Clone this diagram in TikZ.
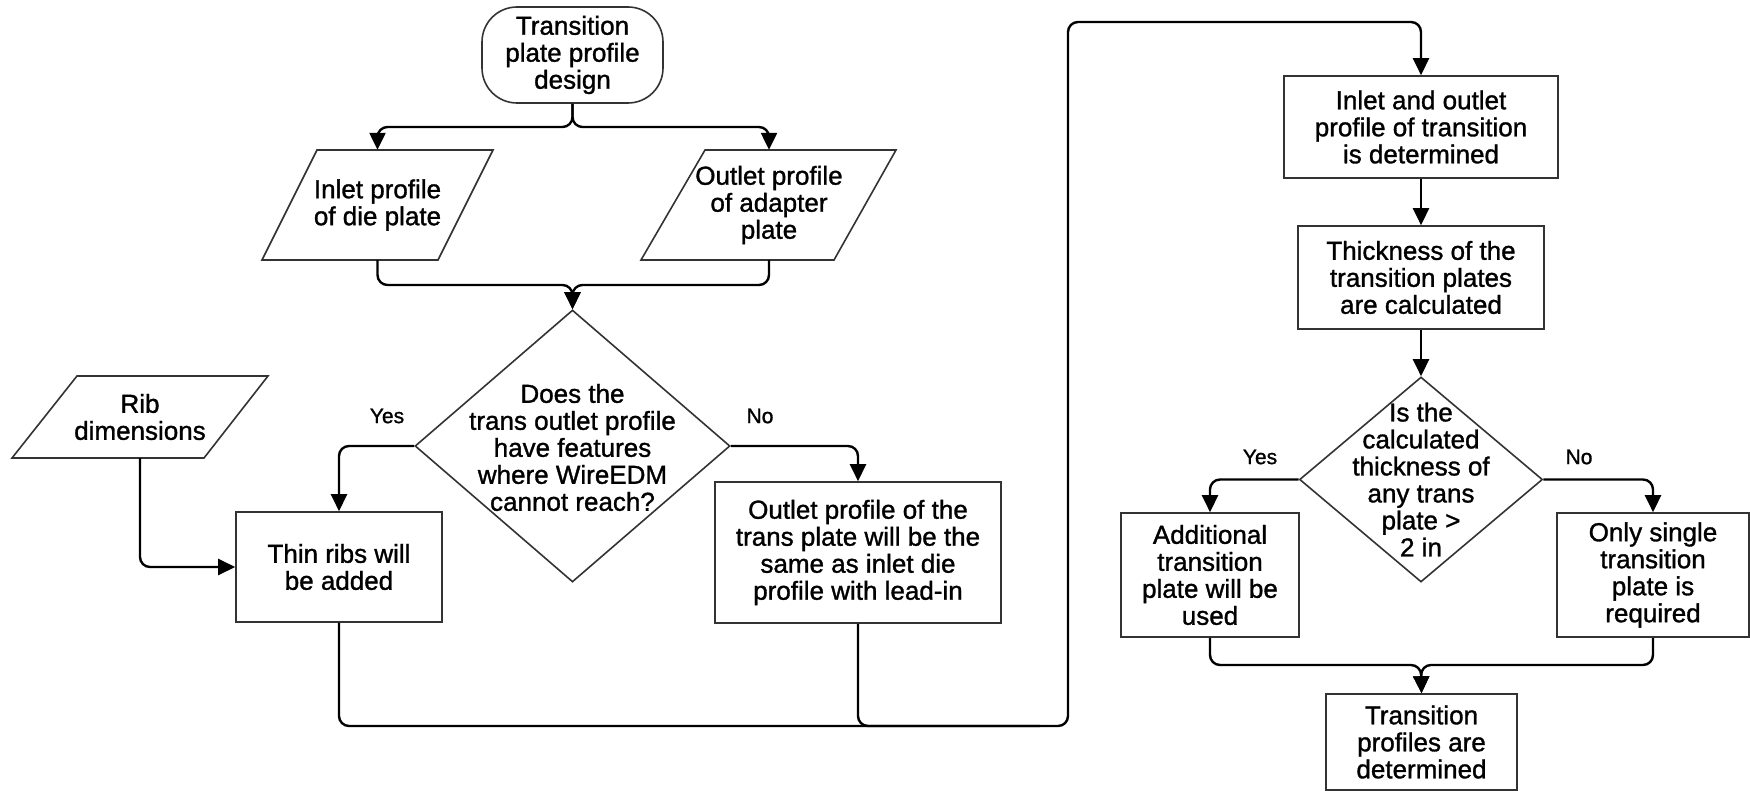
\documentclass[tikz,border=0pt]{standalone}
\usepackage{fontspec}
\setmainfont{Liberation Sans}[FakeBold=1.2]
\usetikzlibrary{arrows.meta,shapes.geometric}
\begin{document}
\begin{tikzpicture}[x=1pt,y=-1pt,
  box/.style={draw=black!80, line width=1.6pt, rectangle, inner sep=0pt, align=center, font=\fontsize{26}{27}\selectfont},
  txt/.style={inner sep=0pt, align=center, font=\fontsize{26}{27}\selectfont},
  shp/.style={draw=black!80, line width=1.6pt, line join=miter},
  dia/.style={draw=black!80, line width=1.6pt, diamond, inner sep=0pt},
  conn/.style={draw=black, line width=2.4pt, rounded corners=10pt, -{Triangle[length=17pt,width=16pt]}},
  plain/.style={draw=black, line width=2.4pt, rounded corners=10pt},
  lbl/.style={inner sep=0pt, font=\fontsize{21}{24}\selectfont}]
\useasboundingbox (0,0) rectangle (1750,791);

% start
\node[box, rounded corners=35pt, minimum width=181pt, minimum height=96pt] (T) at (572.5,55) {Transition\\plate profile\\design};

% inputs
\draw[shp] (317,150) -- (493,150) -- (438,260) -- (262,260) -- cycle;
\node[txt, minimum height=110pt] (I) at (377.5,205) {Inlet profile\\of die plate};
\draw[shp] (705,150) -- (896,150) -- (834,260) -- (641,260) -- cycle;
\node[txt, minimum height=110pt] (O) at (769,205) {Outlet profile\\of adapter\\plate};
\draw[shp] (77,376) -- (268,376) -- (204,458) -- (12,458) -- cycle;
\node[txt, minimum height=82pt] (R) at (140,417) {Rib\\dimensions};

% decision 1
\node[dia, minimum width=315pt, minimum height=272pt] (D1) at (572.5,446) {};
\node[txt] (D1t) at (572.5,447.5) {Does the\\trans outlet profile\\have features\\where WireEDM\\cannot reach?};

\node[box, minimum width=206pt, minimum height=110pt] (A) at (339,567) {Thin ribs will\\be added};
\node[box, minimum width=286pt, minimum height=141pt] (B) at (858,552.5) {Outlet profile of the\\trans plate will be the\\same as inlet die\\profile with lead-in};

% right column
\node[box, minimum width=274pt, minimum height=102pt] (C) at (1421,127) {Inlet and outlet\\profile of transition\\is determined};
\node[box, minimum width=246pt, minimum height=103pt] (Th) at (1421,277.5) {Thickness of the\\transition plates\\are calculated};
\node[dia, minimum width=243pt, minimum height=205pt] (D2) at (1421,479.5) {};
\node[txt] (D2t) at (1421,479.5) {Is the\\calculated\\thickness of\\any trans\\plate >\\2 in};
\node[box, minimum width=178.5pt, minimum height=124pt] (Ad) at (1210,575) {Additional\\transition\\plate will be\\used};
\node[box, minimum width=192pt, minimum height=124pt] (On) at (1653,575) {Only single\\transition\\plate is\\required};
\node[box, minimum width=191.5pt, minimum height=96pt] (F) at (1421.5,742) {Transition\\profiles are\\determined};

% labels
\node[lbl] (y1) at (387,416) {Yes};
\node[lbl] (n1) at (760,416) {No};
\node[lbl] (y2) at (1260,457) {Yes};
\node[lbl] (n2) at (1579,457) {No};

% connectors
\coordinate (s1) at (572.5,127);
\coordinate (m1) at (572.5,285);
\coordinate (b1) at (1068,726);
\coordinate (b2) at (1040,726);
\coordinate (t1) at (1068,22);
\coordinate (m2) at (1421,665);

\draw[conn] (T.south) -- (s1) -| (I.north);
\draw[conn] (T.south) -- (s1) -| (O.north);
\draw[conn] (I.south) |- (m1) -- (D1.north);
\draw[conn] (O.south) |- (m1) -- (D1.north);
\draw[conn] (D1.west) -| (A.north);
\draw[conn] (D1.east) -| (B.north);
\draw[conn] (R.south) |- (A.west);
\draw[conn] (A.south) |- (b1) -- (t1) -| (C.north);
\draw[plain] (B.south) |- (b2);
\draw[conn] (C.south) -- (Th.north);
\draw[conn] (Th.south) -- (D2.north);
\draw[conn] (D2.west) -| (Ad.north);
\draw[conn] (D2.east) -| (On.north);
\draw[conn] (Ad.south) |- (m2) -- (F.north);
\draw[conn] (On.south) |- (m2) -- (F.north);
\end{tikzpicture}
\end{document}
